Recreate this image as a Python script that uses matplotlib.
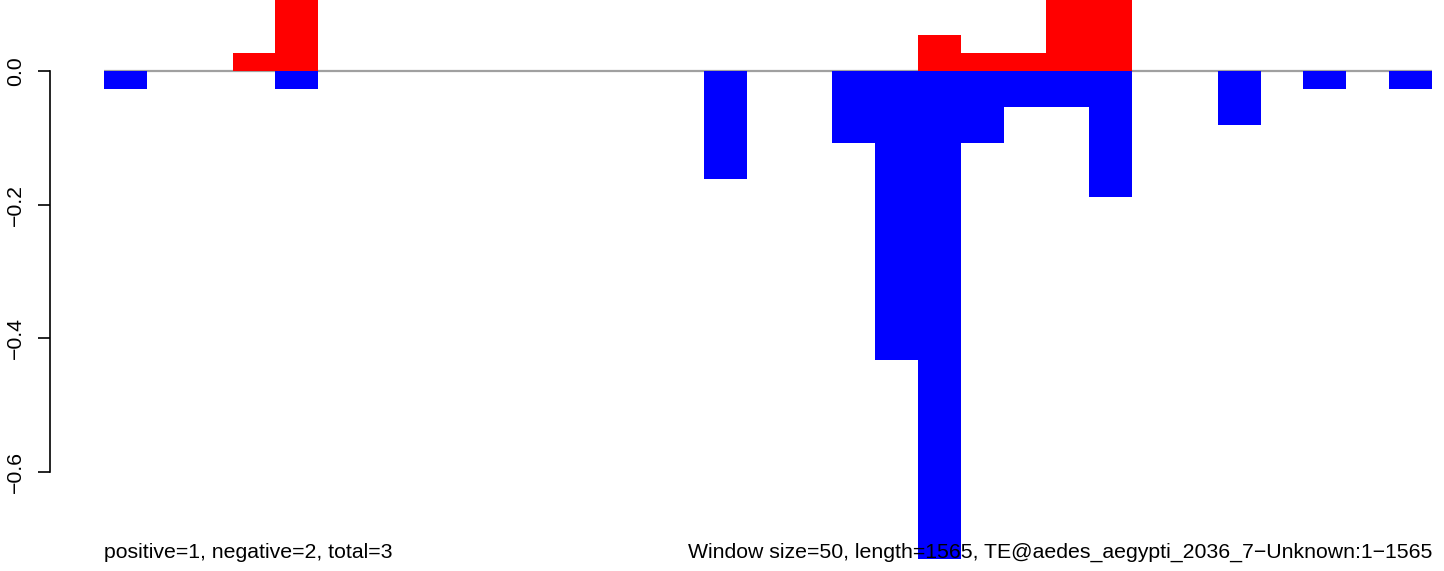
import numpy as np
import matplotlib.pyplot as plt

plt.rcParams['font.family'] = ['Liberation Sans', 'DejaVu Sans']

# window index (50 bp windows along the 1565 bp element)
n_windows = 31
window = np.arange(n_windows)

# positive strand fraction per window (red); tall ones are cut off at the top
pos_idx = [3, 4, 19, 20, 21, 22, 23]
pos_val = [0.027, 0.19, 0.054, 0.027, 0.027, 0.16, 0.16]

# negative strand fraction per window (blue)
neg_idx = [0, 4, 14, 17, 18, 19, 20, 21, 22, 23, 26, 28, 30]
neg_val = [-0.027, -0.027, -0.162, -0.108, -0.432, -0.730, -0.108,
           -0.054, -0.054, -0.189, -0.081, -0.027, -0.027]

yticks = [0.0, -0.2, -0.4, -0.6]
left_note = "positive=1, negative=2, total=3"
right_note = "Window size=50, length=1565, TE@aedes_aegypti_2036_7\u2212Unknown:1\u22121565"

FS = 15.3
W, H = 1444, 571
fig = plt.figure(figsize=(W / 100, H / 100), dpi=100)
ax = fig.add_axes([104 / W, 0, (1432 - 104) / W, 1])

# zero line
ax.plot([0, n_windows], [0, 0], color='#a0a0a0', lw=1.6, zorder=1)

ax.bar(pos_idx, pos_val, width=1, align='edge', color='#ff0000', lw=0, zorder=2)
ax.bar(neg_idx, neg_val, width=1, align='edge', color='#0000ff', lw=0, zorder=2)

ax.set_xlim(0, n_windows)
ax.set_ylim(-500 / 668.3, 71 / 668.3)

for s in ['top', 'right', 'bottom']:
    ax.spines[s].set_visible(False)
ax.spines['left'].set_position(('axes', (50 - 104) / (1432 - 104)))
ax.spines['left'].set_bounds(-0.6, 0.0)
ax.spines['left'].set_linewidth(1.2)
ax.set_xticks([])
ax.set_yticks(yticks)
ax.set_yticklabels([f"{v:.1f}".replace('-', '\u2212') for v in yticks],
                   rotation=90, va='center', ha='right', fontsize=FS)
ax.tick_params(axis='y', length=8.6, width=1.2, pad=9.5)

fig.text(104 / W, 1 - 558 / H, left_note, ha='left', va='baseline', fontsize=FS, zorder=5)
fig.text(1432 / W, 1 - 558 / H, right_note, ha='right', va='baseline', fontsize=FS, zorder=5)

fig.savefig("out.png", dpi=100)
